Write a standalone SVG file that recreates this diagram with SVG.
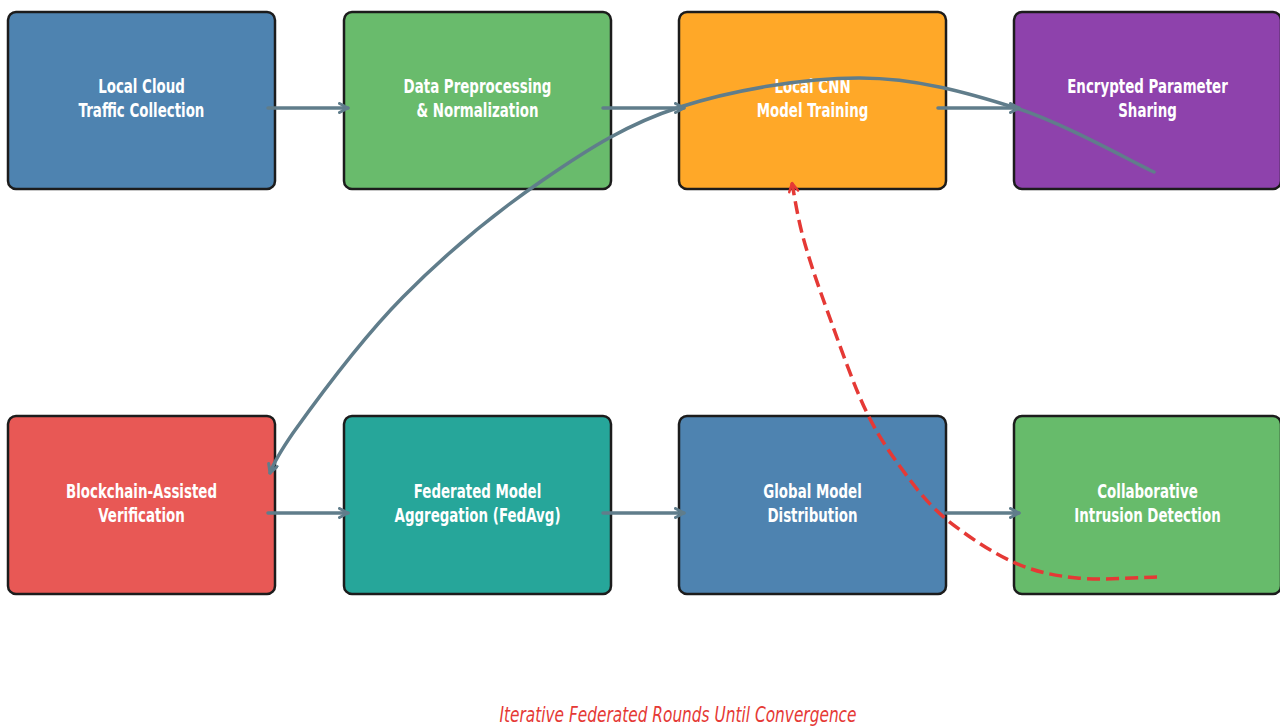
<svg xmlns="http://www.w3.org/2000/svg" width="1280" height="726" viewBox="0 0 1280 726">
<style>
.box{stroke:#1c1c1c;stroke-width:2.5}
.lbl{font-family:"DejaVu Sans","Liberation Sans",sans-serif;font-weight:bold;font-size:20px;fill:#ffffff;text-anchor:middle}
.conn{fill:none;stroke:#607d8b;stroke-width:3.5;stroke-linecap:round}
.loop{fill:none;stroke:#e53935;stroke-width:3.5;stroke-dasharray:13 6}
.title{font-family:"DejaVu Sans","Liberation Sans",sans-serif;font-style:italic;font-size:20.5px;fill:#e53935;text-anchor:middle}
</style>
<defs>
<marker id="ah" viewBox="0 0 12 12" refX="10.5" refY="6" markerWidth="12" markerHeight="12" markerUnits="userSpaceOnUse" orient="auto">
<path d="M2,1.5 L10.5,6 L2,10.5" fill="none" stroke="#607d8b" stroke-width="3" stroke-linecap="round" stroke-linejoin="round"/>
</marker>
<marker id="ahr" viewBox="0 0 12 12" refX="10.5" refY="6" markerWidth="12" markerHeight="12" markerUnits="userSpaceOnUse" orient="auto">
<path d="M2,1.5 L10.5,6 L2,10.5" fill="none" stroke="#e53935" stroke-width="2.5" stroke-linecap="round" stroke-linejoin="round"/>
</marker>
</defs>
<rect width="1280" height="726" fill="#ffffff"/>

<g id="n1"><rect class="box" x="8" y="12" width="267" height="177" rx="8" fill="#4e83b0"/>
<g transform="translate(141.5,0) scale(0.67,1)"><text class="lbl" x="0" y="93">Local Cloud</text><text class="lbl" x="0" y="117.5">Traffic Collection</text></g></g>
<g id="n2"><rect class="box" x="344" y="12" width="267" height="177" rx="8" fill="#69bb6c"/>
<g transform="translate(477.5,0) scale(0.67,1)"><text class="lbl" x="0" y="93">Data Preprocessing</text><text class="lbl" x="0" y="117.5">&amp; Normalization</text></g></g>
<g id="n3"><rect class="box" x="679" y="12" width="267" height="177" rx="8" fill="#ffa828"/>
<g transform="translate(812.5,0) scale(0.67,1)"><text class="lbl" x="0" y="93">Local CNN</text><text class="lbl" x="0" y="117.5">Model Training</text></g></g>
<g id="n4"><rect class="box" x="1014" y="12" width="267" height="177" rx="8" fill="#8e42ac"/>
<g transform="translate(1147.5,0) scale(0.67,1)"><text class="lbl" x="0" y="93">Encrypted Parameter</text><text class="lbl" x="0" y="117.5">Sharing</text></g></g>

<g id="n5"><rect class="box" x="8" y="416" width="267" height="178" rx="8" fill="#e85855"/>
<g transform="translate(141.5,0) scale(0.67,1)"><text class="lbl" x="0" y="498">Blockchain-Assisted</text><text class="lbl" x="0" y="522.5">Verification</text></g></g>
<g id="n6"><rect class="box" x="344" y="416" width="267" height="178" rx="8" fill="#26a69a"/>
<g transform="translate(477.5,0) scale(0.67,1)"><text class="lbl" x="0" y="498">Federated Model</text><text class="lbl" x="0" y="522.5">Aggregation (FedAvg)</text></g></g>
<g id="n7"><rect class="box" x="679" y="416" width="267" height="178" rx="8" fill="#4e83b0"/>
<g transform="translate(812.5,0) scale(0.67,1)"><text class="lbl" x="0" y="498">Global Model</text><text class="lbl" x="0" y="522.5">Distribution</text></g></g>
<g id="n8"><rect class="box" x="1014" y="416" width="267" height="178" rx="8" fill="#67bb6b"/>
<g transform="translate(1147.5,0) scale(0.67,1)"><text class="lbl" x="0" y="498">Collaborative</text><text class="lbl" x="0" y="522.5">Intrusion Detection</text></g></g>

<g id="connectors">
<path class="conn" d="M268,108 H348" marker-end="url(#ah)"/>
<path class="conn" d="M603,108 H684" marker-end="url(#ah)"/>
<path class="conn" d="M938,108 H1019" marker-end="url(#ah)"/>
<path class="conn" d="M268,513 H348" marker-end="url(#ah)"/>
<path class="conn" d="M603,513 H684" marker-end="url(#ah)"/>
<path class="conn" d="M946,513 H1019" marker-end="url(#ah)"/>
<path class="conn" d="M1154,172 C1131,161.3 1065,123.7 1016,108 C967,92.3 916,78.2 860,78 C804,77.8 732.8,90 680,107 C627.2,124 589.2,148.3 543,180 C496.8,211.7 444.7,254.8 403,297 C361.3,339.2 318,398 293,433 C282,449 274,462 270,473" marker-end="url(#ah)"/>
<path class="loop" d="M1157,577 C1143.7,577.2 1101,580.5 1077,578 C1053,575.5 1034.7,571.7 1013,562 C991.3,552.3 966,535 947,520 C930,505 922,496 910,480 C896.7,462.2 880.8,441.3 867,413 C853.2,384.7 837.7,339.3 827,310 C816.3,280.7 808.8,258.2 803,237 C797.2,215.8 793.8,192 792,183" marker-end="url(#ahr)"/>
</g>

<g transform="translate(678,0) scale(0.75,1)"><text class="title" x="0" y="722">Iterative Federated Rounds Until Convergence</text></g>
</svg>
